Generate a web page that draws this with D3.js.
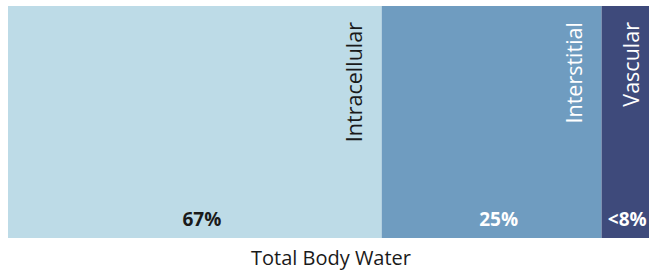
<!DOCTYPE html>
<html>
<head>
<meta charset="utf-8">
<script src="https://cdn.jsdelivr.net/npm/d3@7"></script>
<style>
  body { margin: 0; background: #fff; }
  text { font-family: "Open Sans", sans-serif; }
</style>
</head>
<body>
<div id="chart"></div>
<script>
// compartments of total body water
const compartments = ["Intracellular", "Interstitial", "Vascular"];
// bar widths as drawn in the picture (share of the bar)
const shares = [58.3, 34.3, 7.4];
const pctLabels = ["67%", "25%", "<8%"];
const fills = ["#bddbe7", "#6f9cc0", "#3e4a7b"];
const inkColors = ["#1a1a1a", "#ffffff", "#ffffff"];

const width = 649, height = 272;
const margin = {top: 6, right: 0, bottom: 34, left: 8};

const svg = d3.select("#chart").append("svg")
    .attr("width", width)
    .attr("height", height);

let acc = 0;
const segs = compartments.map((name, i) => {
    const s = {name: name, x0: acc, x1: acc + shares[i], pct: pctLabels[i], fill: fills[i], ink: inkColors[i]};
    acc += shares[i];
    return s;
});

const x = d3.scaleLinear()
    .domain([0, d3.sum(shares)])
    .range([margin.left, width - margin.right]);

const y0 = margin.top, y1 = height - margin.bottom;

const g = svg.append("g");

g.selectAll("rect.seg")
    .data(segs)
    .join("rect")
    .attr("class", "seg")
    .attr("x", d => x(d.x0))
    .attr("y", y0)
    .attr("width", d => x(d.x1) - x(d.x0))
    .attr("height", y1 - y0)
    .attr("fill", d => d.fill);

// vertical names, reading upward, near the right edge of each segment
g.selectAll("text.name")
    .data(segs)
    .join("text")
    .attr("class", "name")
    .attr("transform", d => {
        const w = x(d.x1) - x(d.x0);
        const bx = w > 100 ? x(d.x1) - 20 : x(d.x1) - 10;
        return "translate(" + bx + "," + (y0 + 16) + ") rotate(-90)";
    })
    .attr("text-anchor", "end")
    .attr("font-size", 21.5)
    .attr("fill", d => d.ink)
    .text(d => d.name);

// percentages at the bottom
g.selectAll("text.pct")
    .data(segs)
    .join("text")
    .attr("class", "pct")
    .attr("x", d => {
        const w = x(d.x1) - x(d.x0);
        return (x(d.x0) + x(d.x1)) / 2 + (w > 100 ? 7 : 2);
    })
    .attr("y", y1 - 12)
    .attr("text-anchor", "middle")
    .attr("font-size", 19)
    .attr("font-weight", "bold")
    .attr("fill", d => d.ink)
    .text(d => d.pct);

svg.append("text")
    .attr("x", 331)
    .attr("y", 265)
    .attr("text-anchor", "middle")
    .attr("font-size", 20)
    .attr("fill", "#1a1a1a")
    .text("Total Body Water");
</script>
</body>
</html>
